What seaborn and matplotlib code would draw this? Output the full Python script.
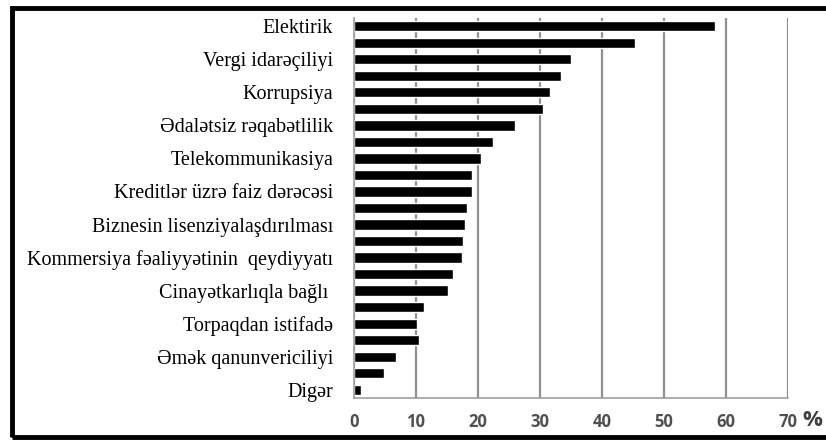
import matplotlib
matplotlib.use("Agg")
import matplotlib.pyplot as plt
import seaborn as sn
import pandas as pd
from matplotlib.patches import Rectangle

# Etiketler (her iki bardan biri etiketli)
etiketler = ["Elektirik", "Vergi idarəçiliyi", "Korrupsiya", "Ədalətsiz rəqabətlilik",
             "Telekommunikasiya", "Kreditlər üzrə faiz dərəcəsi", "Biznesin lisenziyalaşdırılması",
             "Kommersiya fəaliyyətinin  qeydiyyatı", "Cinayətkarlıqla bağlı ", "Torpaqdan istifadə",
             "Əmək qanunvericiliyi", "Digər"]

# 23 bar, yuxaridan asagi
faizler = [58.3, 45.3, 35.0, 33.4, 31.6, 30.5, 26.0, 22.4, 20.5, 19.1, 19.1, 18.2,
           17.9, 17.5, 17.4, 16.0, 15.1, 11.3, 10.2, 10.5, 6.7, 4.9, 1.1]

xticks = [0, 10, 20, 30, 40, 50, 60, 70]

df = pd.DataFrame({"sira": [str(i) for i in range(len(faizler))], "faiz": faizler})

sn.set_style("white")
fig = plt.figure(figsize=(8.26, 4.41), dpi=100)
ax = fig.add_axes([354 / 826, 1 - 398 / 441, (788 - 354) / 826, (398 - 18) / 441])

sn.barplot(data=df, x="faiz", y="sira", color="black", width=0.62, orient="h", ax=ax,
           saturation=1)

ax.set_xlim(0, 70)
ax.set_ylim(len(faizler) - 0.5, -0.5)
ax.set_xticks(xticks)
ax.set_xticklabels([str(t) for t in xticks], fontsize=12, fontweight="bold",
                   color="#505050", family="Open Sans")
ax.tick_params(axis="x", length=4, color="#909090", width=1, pad=7)

ax.set_yticks(range(0, len(faizler), 2))
ax.set_yticklabels(etiketler, family="Liberation Serif", fontsize=14.5, color="black")
ax.set_yticks([i - 0.5 for i in range(len(faizler) + 1)], minor=True)
ax.tick_params(axis="y", which="major", length=0, pad=15)
ax.tick_params(axis="y", which="minor", length=4, color="#a0a0a0", width=1)

ax.set_xlabel("")
ax.set_ylabel("")
ax.grid(axis="x", color="#909090", linewidth=1.6)
ax.set_axisbelow(True)
for s in ["top", "right"]:
    ax.spines[s].set_visible(False)
for s in ["left", "bottom"]:
    ax.spines[s].set_color("#a0a0a0")
    ax.spines[s].set_linewidth(1.2)

fig.text(812 / 826, 1 - 420 / 441, "%", fontsize=16, color="#404040", family="Open Sans",
         fontweight="bold", ha="center", va="center")

# Cerceve
fig.patches.append(Rectangle((12 / 826, 1 - 437 / 441), 830 / 826, 429 / 441,
                             transform=fig.transFigure, fill=False, edgecolor="black",
                             linewidth=3.5))

fig.savefig("out.png", dpi=100)
